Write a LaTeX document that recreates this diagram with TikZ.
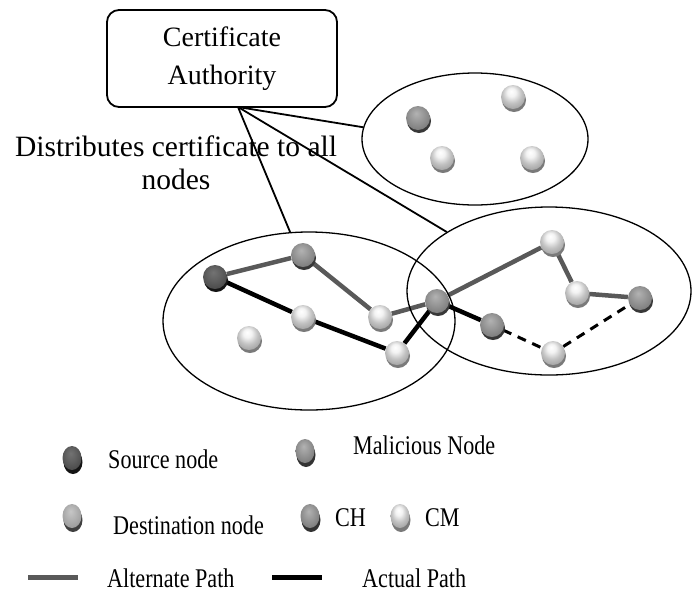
\documentclass[tikz,border=0pt]{standalone}
\usepackage{fontspec}
\setmainfont{Liberation Serif}
\usetikzlibrary{shapes.geometric,shadows,backgrounds}
\newcommand{\legsq}[1]{\scalebox{0.82}[1]{#1}}
\pgfdeclareradialshading{cmshade}{\pgfpoint{-4bp}{12bp}}{color(0bp)=(white); color(9bp)=(black!5); color(20bp)=(black!24); color(32bp)=(black!38); color(50bp)=(black!44)}
\pgfdeclareradialshading{chshade}{\pgfpoint{-4bp}{10bp}}{color(0bp)=(black!30); color(14bp)=(black!40); color(28bp)=(black!50); color(50bp)=(black!56)}
\pgfdeclareradialshading{dstshade}{\pgfpoint{-4bp}{10bp}}{color(0bp)=(black!22); color(14bp)=(black!30); color(28bp)=(black!38); color(50bp)=(black!45)}
\pgfdeclareradialshading{srcshade}{\pgfpoint{-4bp}{10bp}}{color(0bp)=(black!55); color(14bp)=(black!62); color(28bp)=(black!70); color(50bp)=(black!75)}
\begin{document}
\begin{tikzpicture}[x=1pt,y=1pt,
  sph/.style={circle, minimum size=24pt, inner sep=0pt, draw=none, shade},
  cmnode/.style={sph, shading=cmshade, general shadow={fill=black!52, shadow xshift=1pt, shadow yshift=-3pt}},
  chnode/.style={sph, shading=chshade, general shadow={fill=black!78, shadow xshift=1pt, shadow yshift=-3pt}},
  srcnode/.style={sph, shading=srcshade, general shadow={fill=black!92, shadow xshift=1pt, shadow yshift=-3pt}},
  lsph/.style={ellipse, minimum width=19pt, minimum height=24pt, inner sep=0pt, draw=none, shade},
  lcmnode/.style={lsph, shading=cmshade, general shadow={fill=black!52, shadow xshift=1pt, shadow yshift=-4pt}},
  lchnode/.style={lsph, shading=chshade, general shadow={fill=black!80, shadow xshift=1pt, shadow yshift=-4pt}},
  ldstnode/.style={lsph, shading=dstshade, general shadow={fill=black!75, shadow xshift=1pt, shadow yshift=-4pt}},
  lsrcnode/.style={lsph, shading=srcshade, general shadow={fill=black!92, shadow xshift=1pt, shadow yshift=-4pt}},
  clus/.style={ellipse, draw, line width=1.3pt, inner sep=0pt},
  cabox/.style={draw, line width=1.8pt, rounded corners=12pt, minimum width=230pt, minimum height=97pt, align=center, font=\fontsize{28}{38}\selectfont},
  calink/.style={line width=1.8pt},
  altpath/.style={line width=4.5pt, draw=black!65, line join=round},
  actpath/.style={line width=4.5pt, draw=black, line join=round},
  dshpath/.style={line width=3pt, draw=black, dash pattern=on 9pt off 7pt},
  legtext/.style={anchor=west, inner sep=0pt, font=\fontsize{27}{30}\selectfont}
]
\useasboundingbox (0,0) rectangle (693,-598);

% clusters
\node[clus, minimum width=226pt, minimum height=132pt] (eT) at (475,-139) {};
\node[clus, minimum width=292pt, minimum height=178pt] (eL) at (309,-321) {};
\node[clus, minimum width=284pt, minimum height=168pt] (eR) at (549,-291) {};

% certificate authority
\node[cabox] (ca) at (222,-58.5) {Certificate\\Authority};
\coordinate (caP) at (238,-107);
\draw[calink] (caP) -- (eT.174);
\draw[calink] (caP) -- (eL.102);
\draw[calink] (caP) -- (eR.150);

\node[align=center, font=\fontsize{29.5}{33}\selectfont] (dist) at (176,-163) {Distributes certificate to all\\nodes};

% top cluster
\node[chnode] (t1) at (418,-118) {};
\node[cmnode] (t2) at (513,-97) {};
\node[cmnode] (t3) at (442,-158) {};
\node[cmnode] (t4) at (532,-158) {};

% left cluster
\node[srcnode] (s) at (215,-277) {};
\node[chnode] (m1) at (303,-255) {};
\node[cmnode] (c1) at (303,-317) {};
\node[cmnode] (c2) at (249,-338) {};
\node[cmnode] (c3) at (380,-317) {};
\node[cmnode] (c4) at (397,-353) {};
\node[chnode] (h1) at (437,-301) {};

% right cluster
\node[cmnode] (c5) at (552,-242) {};
\node[cmnode] (c6) at (577,-293) {};
\node[chnode] (g1) at (640,-298) {};
\node[chnode] (g2) at (492,-325) {};
\node[cmnode] (c7) at (553,-353) {};

\begin{pgfonlayer}{background}
\draw[altpath] (s) -- (m1) -- (c3) -- (h1) -- (c5) -- (c6) -- (g1);
\draw[actpath] (s) -- (c1) -- (c4) -- (h1) -- (g2);
\draw[dshpath] (g2) -- (c7) -- (g1);
\end{pgfonlayer}

% legend
\node[lsrcnode] (ls) at (72,-458) {};
\node[legtext] (lst) at (108,-459) {\legsq{Source node}};
\node[lchnode] (lm) at (305,-451) {};
\node[legtext] (lmt) at (353,-445) {\legsq{Malicious Node}};
\node[ldstnode] (ld) at (72,-516) {};
\node[legtext] (ldt) at (113,-525) {\legsq{Destination node}};
\node[lchnode] (lh) at (310,-516) {};
\node[legtext] (lht) at (335,-518) {\legsq{CH}};
\node[lcmnode] (lc) at (400,-516) {};
\node[legtext] (lct) at (425,-518) {\legsq{CM}};
\coordinate (la1) at (28,-577);
\coordinate (la2) at (78,-577);
\draw[line width=5pt, draw=black!65] (la1) -- (la2);
\node[legtext] (lat) at (107,-578) {\legsq{Alternate Path}};
\coordinate (lb1) at (272,-577);
\coordinate (lb2) at (322,-577);
\draw[line width=5pt, draw=black] (lb1) -- (lb2);
\node[legtext] (lbt) at (362,-578) {\legsq{Actual Path}};
\end{tikzpicture}
\end{document}
